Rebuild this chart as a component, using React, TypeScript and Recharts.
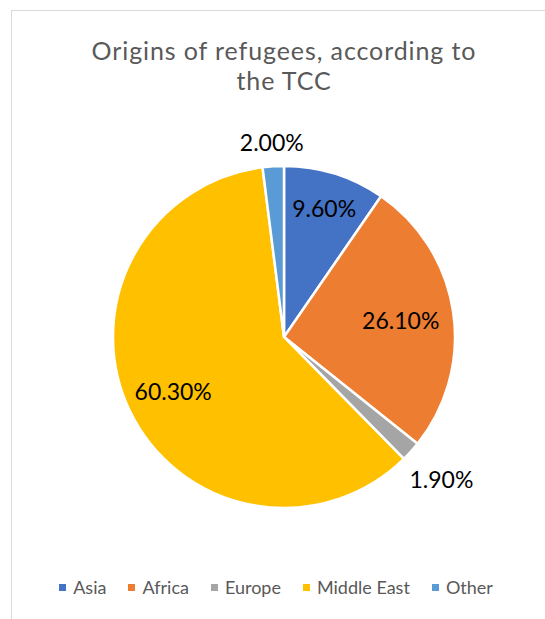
import React from "react";
import { PieChart, Pie, Cell, Legend } from "recharts";

const categories = ["Asia", "Africa", "Europe", "Middle East", "Other"];
const shares = [9.6, 26.1, 1.9, 60.3, 2.0];
const labels = ["9.60%", "26.10%", "1.90%", "60.30%", "2.00%"];
const colors = ["#4472C4", "#ED7D31", "#A5A5A5", "#FFC000", "#5B9BD5"];

// label distance from centre, as a fraction of the outer radius (style only)
const labelRadius = [0.79, 0.69, 1.24, 0.72, 1.14];

const data = categories.map((name, i) => ({ name, value: shares[i], label: labels[i] }));

const FONT = "Lato, 'Open Sans', sans-serif";
const RAD = Math.PI / 180;

const renderLabel = (props: any) => {
  const { cx, cy, midAngle, outerRadius, index } = props;
  const r = outerRadius * labelRadius[index];
  const x = cx + r * Math.cos(-midAngle * RAD);
  const y = cy + r * Math.sin(-midAngle * RAD);
  return (
    <text
      x={x}
      y={y}
      fill="#000000"
      textAnchor="middle"
      dominantBaseline="central"
      fontSize={23}
      fontFamily={FONT}
    >
      {data[index].label}
    </text>
  );
};

const renderLegend = () => (
  <div
    style={{
      display: "flex",
      justifyContent: "center",
      alignItems: "center",
      gap: 22,
      fontFamily: FONT,
      fontSize: 18,
      lineHeight: "24px",
      color: "#595959",
    }}
  >
    {categories.map((name, i) => (
      <div key={name} style={{ display: "flex", alignItems: "center" }}>
        <span
          style={{
            display: "inline-block",
            width: 7,
            height: 7,
            background: colors[i],
            marginRight: 7,
          }}
        />
        <span>{name}</span>
      </div>
    ))}
  </div>
);

export default function App() {
  return (
    <div style={{ position: "absolute", left: 0, top: 0, width: 545, height: 619, background: "#fff", overflow: "hidden" }}>
      <div
        style={{
          position: "absolute",
          left: 11,
          top: 10,
          width: 560,
          height: 640,
          border: "1.5px solid #d9d9d9",
          boxSizing: "border-box",
        }}
      />
      <div
        style={{
          position: "absolute",
          left: 0,
          top: 35,
          width: 568,
          textAlign: "center",
          fontFamily: FONT,
          fontSize: 25,
          letterSpacing: 0.9,
          lineHeight: "30px",
          color: "#595959",
        }}
      >
        Origins of refugees, according to
        <br />
        the TCC
      </div>
      <div style={{ position: "absolute", left: 0, top: 0 }}>
        <PieChart width={545} height={619} margin={{ top: 0, right: 0, bottom: 0, left: 0 }}>
          <Pie
            data={data}
            dataKey="value"
            nameKey="name"
            cx={284}
            cy={337}
            outerRadius={171}
            startAngle={90}
            endAngle={-270}
            stroke="#ffffff"
            strokeWidth={2.5}
            label={renderLabel}
            labelLine={false}
            isAnimationActive={false}
          >
            {data.map((d, i) => (
              <Cell key={d.name} fill={colors[i]} />
            ))}
          </Pie>
          <Legend
            content={renderLegend}
            wrapperStyle={{ top: 575, left: 0, width: 552, height: 24 }}
          />
        </PieChart>
      </div>
    </div>
  );
}
